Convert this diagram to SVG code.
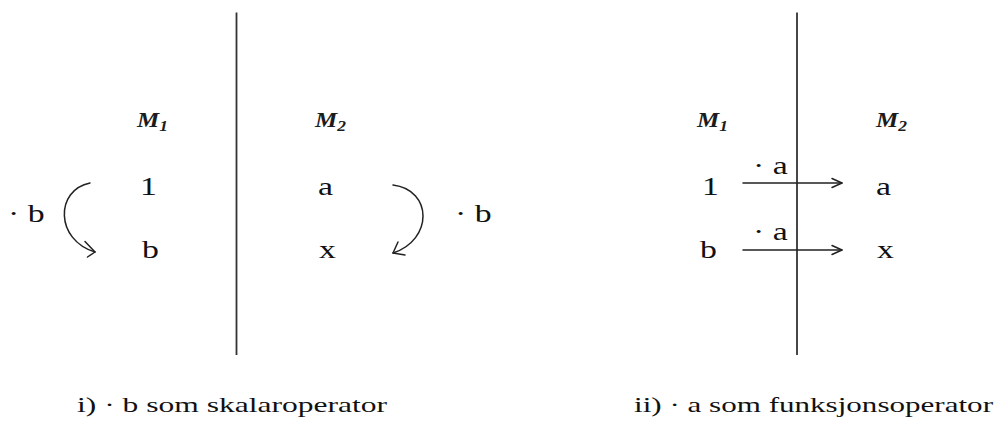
<svg xmlns="http://www.w3.org/2000/svg" width="996" height="421" viewBox="0 0 996 421">
<style>
text{font-family:"Liberation Serif","Times New Roman","DejaVu Serif",serif;fill:#111}
.t{font-size:25px}
.c{font-size:22px}
.m{font-style:italic;font-weight:bold;font-size:20px;fill:#1c1c1c}
.s{font-size:14px}
.ln{stroke:#333;stroke-width:1.8;fill:none}
.ar{stroke:#222;stroke-width:1.5;fill:none;stroke-linecap:round;stroke-linejoin:round}
</style>
<rect width="996" height="421" fill="#fff"/>
<g id="dividers">
<line class="ln" x1="236.5" y1="12.5" x2="236.5" y2="355"/>
<line class="ln" x1="797" y1="12.5" x2="797" y2="355"/>
</g>
<g id="connectors">
<path class="ar" d="M90,183 C55,190 55,240 95,252"/>
<path class="ar" d="M85,241.5 L95,252 L87.5,257"/>
<path class="ar" d="M393,185 C433,190 433,240 393,253"/>
<path class="ar" d="M398,242 L393,253 L405,255"/>
<line class="ar" x1="743" y1="183" x2="842" y2="183"/>
<path class="ar" d="M832,178.5 L842,183 L832,187.5"/>
<line class="ar" x1="743" y1="250" x2="842" y2="250"/>
<path class="ar" d="M832,245.5 L842,250 L832,254.5"/>
</g>
<g id="left-M1"><text class="m" transform="translate(137,127) scale(1.25,1)">M<tspan class="s" dy="4">1</tspan></text></g>
<g id="left-1"><text class="t" transform="translate(140,195) scale(1.35,1)">1</text></g>
<g id="left-b"><text class="t" transform="translate(142,258) scale(1.35,1)">b</text></g>
<g id="left-op"><text class="t" transform="translate(8,222) scale(1.35,1)">· b</text></g>
<g id="left-M2"><text class="m" transform="translate(315,127) scale(1.25,1)">M<tspan class="s" dy="4">2</tspan></text></g>
<g id="left-a"><text class="t" transform="translate(318,195) scale(1.35,1)">a</text></g>
<g id="left-x"><text class="t" transform="translate(319,258) scale(1.35,1)">x</text></g>
<g id="right-op"><text class="t" transform="translate(455,222) scale(1.35,1)">· b</text></g>
<g id="right-M1"><text class="m" transform="translate(697,127) scale(1.25,1)">M<tspan class="s" dy="4">1</tspan></text></g>
<g id="right-M2"><text class="m" transform="translate(876,127) scale(1.25,1)">M<tspan class="s" dy="4">2</tspan></text></g>
<g id="right-1"><text class="t" transform="translate(702,195) scale(1.35,1)">1</text></g>
<g id="right-b"><text class="t" transform="translate(700,258) scale(1.35,1)">b</text></g>
<g id="right-a"><text class="t" transform="translate(876,195) scale(1.35,1)">a</text></g>
<g id="right-x"><text class="t" transform="translate(877,258) scale(1.35,1)">x</text></g>
<g id="op-a1"><text class="t" transform="translate(753,174) scale(1.35,1)">· a</text></g>
<g id="op-a2"><text class="t" transform="translate(753,240) scale(1.35,1)">· a</text></g>
<g id="caption-i"><text class="c" x="77" y="412" textLength="310" lengthAdjust="spacingAndGlyphs">i) · b som skalaroperator</text></g>
<g id="caption-ii"><text class="c" x="634" y="412" textLength="359" lengthAdjust="spacingAndGlyphs">ii) · a som funksjonsoperator</text></g>
</svg>
